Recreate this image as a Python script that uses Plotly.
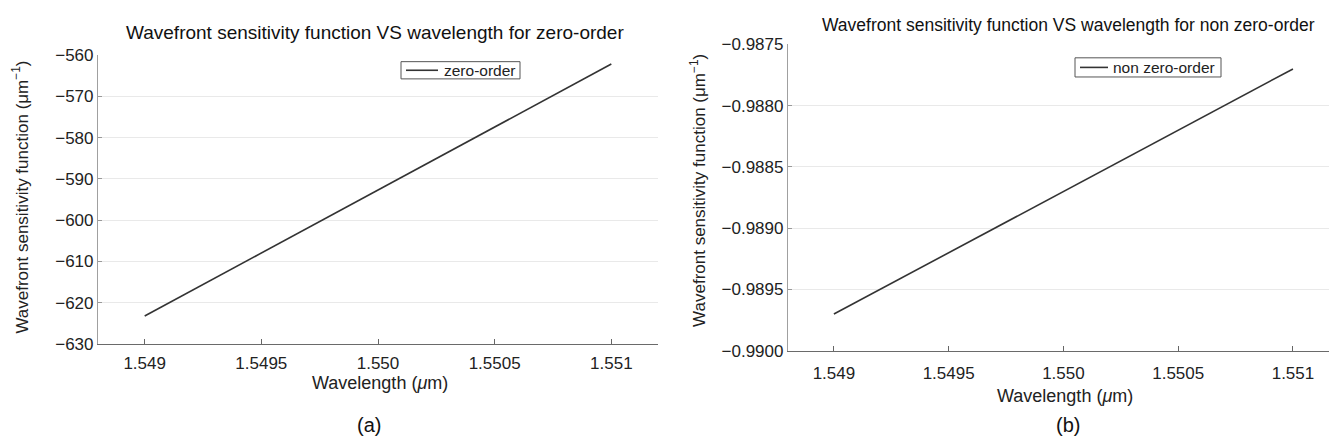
import plotly.graph_objects as go

# Data
wl = [1.549, 1.551]
zero_order = [-623.2, -562.2]
non_zero_order = [-0.9897, -0.9877]
series_names = ["zero-order", "non zero-order"]

x_tickvals = [1.549, 1.5495, 1.550, 1.5505, 1.551]
x_ticktext = ["1.549", "1.5495", "1.550", "1.5505", "1.551"]
ya_tickvals = [-630, -620, -610, -600, -590, -580, -570, -560]
yb_tickvals = [-0.9900, -0.9895, -0.9890, -0.9885, -0.9880, -0.9875]
yb_ticktext = ["\u22120.9900", "\u22120.9895", "\u22120.9890", "\u22120.9885", "\u22120.9880", "\u22120.9875"]

W, H = 1329, 446
FONT = "Liberation Sans, Arial, sans-serif"
LINE_COLOR = "#333333"

def px(x):
    return x / W

def py(y):
    return 1 - y / H

fig = go.Figure()
fig.add_trace(go.Scatter(x=wl, y=zero_order, mode="lines", name=series_names[0],
                         line=dict(color=LINE_COLOR, width=1.6),
                         xaxis="x", yaxis="y", showlegend=False))
fig.add_trace(go.Scatter(x=wl, y=non_zero_order, mode="lines", name=series_names[1],
                         line=dict(color=LINE_COLOR, width=1.6),
                         xaxis="x2", yaxis="y2", showlegend=False))

tickfont = dict(family=FONT, size=17, color="#222222")
xaxis_common = dict(
    showline=True, linecolor="#6a6a6a", linewidth=1.3,
    ticks="inside", ticklen=5, tickcolor="#666666",
    tickfont=tickfont, zeroline=False, showgrid=False,
)
yaxis_common = dict(
    showline=True, linecolor="#a0a0a0", linewidth=1.2,
    ticks="inside", ticklen=4, tickcolor="#999999",
    tickfont=tickfont, zeroline=False, showgrid=True, gridcolor="#e9e9e9",
)

fig.update_layout(
    width=W, height=H,
    margin=dict(l=0, r=0, t=0, b=0),
    paper_bgcolor="white", plot_bgcolor="white",
    xaxis=dict(domain=[px(98), px(658)], range=[1.5488, 1.5512],
               tickvals=x_tickvals, ticktext=x_ticktext, ticklabelstandoff=3,
               anchor="y", **xaxis_common),
    yaxis=dict(domain=[py(350), py(48)], range=[-630, -560],
               tickvals=ya_tickvals, anchor="x", **yaxis_common),
    xaxis2=dict(domain=[px(788), 1.0], range=[1.5488, 1.551157],
                tickvals=x_tickvals, ticktext=x_ticktext, ticklabelstandoff=7,
                anchor="y2", **xaxis_common),
    yaxis2=dict(domain=[py(357), py(37)], range=[-0.9900, -0.9875],
                tickvals=yb_tickvals, ticktext=yb_ticktext,
                anchor="x2", **yaxis_common),
)

# Legends (boxed, with line samples)
legends = [
    dict(box=(401, 55, 520, 73), line=(406, 438), text_x=442, name=series_names[0]),
    dict(box=(1075, 51, 1221, 71), line=(1080, 1108), text_x=1111, name=series_names[1]),
]
shapes = []
annotations = []
for lg in legends:
    x0, y0, x1, y1 = lg["box"]
    yc = (y0 + y1) / 2
    shapes.append(dict(type="rect", xref="paper", yref="paper",
                       x0=px(x0), x1=px(x1), y0=py(y1), y1=py(y0),
                       line=dict(color="#555555", width=1), fillcolor="white", layer="above"))
    shapes.append(dict(type="line", xref="paper", yref="paper",
                       x0=px(lg["line"][0]), x1=px(lg["line"][1]), y0=py(yc), y1=py(yc),
                       line=dict(color=LINE_COLOR, width=1.6), layer="above"))
    annotations.append(dict(text=lg["name"], x=px(lg["text_x"]), y=py(yc), xanchor="left",
                            font=dict(family=FONT, size=15.5, color="#222222")))

annotations += [
    dict(text="Wavefront sensitivity function VS wavelength for zero-order",
         x=px(375), y=py(25), font=dict(family=FONT, size=19, color="#111111")),
    dict(text="Wavefront sensitivity function VS wavelength for non zero-order",
         x=px(1068), y=py(17), font=dict(family=FONT, size=17.5, color="#111111")),
    dict(text="Wavefront sensitivity function (\u03bcm<sup>\u22121</sup>)",
         x=px(20), y=py(197), textangle=-90, font=dict(family=FONT, size=17, color="#222222")),
    dict(text="Wavefront sensitivity function (\u03bcm<sup>\u22121</sup>)",
         x=px(698), y=py(190), textangle=-90, font=dict(family=FONT, size=17, color="#222222")),
    dict(text="Wavelength (<i>\u03bc</i>m)", x=px(380), y=py(391),
         font=dict(family=FONT, size=18, color="#222222")),
    dict(text="Wavelength (<i>\u03bc</i>m)", x=px(1065), y=py(404),
         font=dict(family=FONT, size=18, color="#222222")),
    dict(text="(a)", x=px(369), y=py(435), font=dict(family=FONT, size=20, color="#111111")),
    dict(text="(b)", x=px(1068), y=py(435), font=dict(family=FONT, size=20, color="#111111")),
]
for a in annotations:
    a.setdefault("xanchor", "center")
    a.update(xref="paper", yref="paper", showarrow=False, yanchor="middle")

fig.update_layout(shapes=shapes, annotations=annotations)

fig.write_html("out.html",
               config={"displayModeBar": False},
               post_script="document.body.style.margin='0';document.body.style.overflow='hidden';")
